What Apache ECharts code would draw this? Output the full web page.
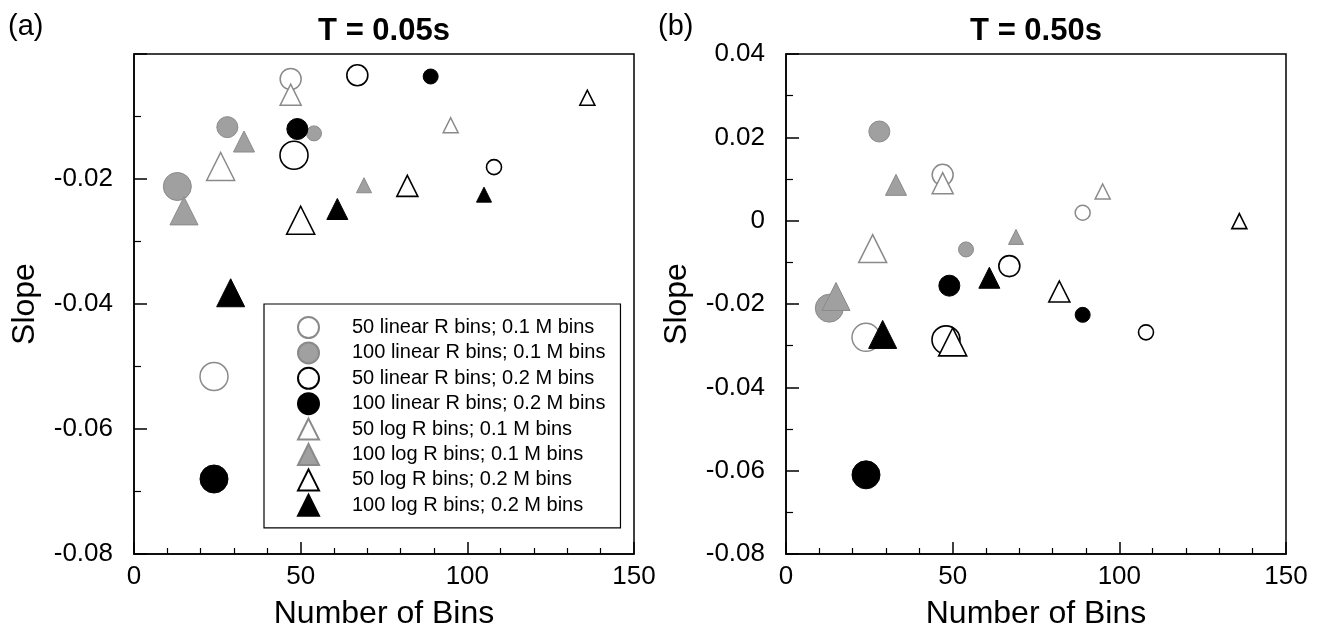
<!DOCTYPE html>
<html>
<head>
<meta charset="utf-8">
<script src="https://cdn.jsdelivr.net/npm/echarts@6/dist/echarts.min.js"></script>
<style>
  html, body { margin: 0; padding: 0; background: #fff; }
  #chart { width: 1320px; height: 635px; }
</style>
</head>
<body>
<div id="chart"></div>
<script>
// ---------------- DATA ----------------
// Legend / series names
const seriesNames = [
  '50 linear R bins; 0.1 M bins',
  '100 linear R bins; 0.1 M bins',
  '50 linear R bins; 0.2 M bins',
  '100 linear R bins; 0.2 M bins',
  '50 log R bins; 0.1 M bins',
  '100 log R bins; 0.1 M bins',
  '50 log R bins; 0.2 M bins',
  '100 log R bins; 0.2 M bins'
];
const panelTitles = ['T = 0.05s', 'T = 0.50s'];
const panelLabels = ['(a)', '(b)'];
const xTicks = [0, 50, 100, 150];
const yTicksLeft = [-0.08, -0.06, -0.04, -0.02, 0];
const yTicksRight = [-0.08, -0.06, -0.04, -0.02, 0, 0.02, 0.04];

// Each series: [number of bins, slope] for three fit groups (large, medium, small marker); null = not visible
// Panel (a): T = 0.05 s
const a_lin50_m01  = [[24, -0.0516], [47, -0.0040], null];
const a_lin100_m01 = [[13, -0.0212], [28, -0.0117], [54, -0.0127]];
const a_lin50_m02  = [[48, -0.0162], [67, -0.0034], [108, -0.0181]];
const a_lin100_m02 = [[24, -0.0680], [49, -0.0120], [89, -0.0036]];
const a_log50_m01  = [[26, -0.0180], [47, -0.0065], [95, -0.0114]];
const a_log100_m01 = [[15, -0.0251], [33, -0.0140], [69, -0.0210]];
const a_log50_m02  = [[50, -0.0266], [82, -0.0211], [136, -0.0070]];
const a_log100_m02 = [[29, -0.0382], [61, -0.0248], [105, -0.0225]];
// Panel (b): T = 0.50 s
const b_lin50_m01  = [[24, -0.0280], [47, 0.0110], [89, 0.0019]];
const b_lin100_m01 = [[13, -0.0210], [28, 0.0214], [54, -0.0069]];
const b_lin50_m02  = [[48, -0.0286], [67, -0.0109], [108, -0.0268]];
const b_lin100_m02 = [[24, -0.0610], [49, -0.0156], [89, -0.0226]];
const b_log50_m01  = [[26, -0.0067], [47, 0.0090], [95, 0.0070]];
const b_log100_m01 = [[15, -0.0182], [33, 0.0086], [69, -0.0039]];
const b_log50_m02  = [[50, -0.0291], [82, -0.0170], [136, -0.0001]];
const b_log100_m02 = [[29, -0.0273], [61, -0.0137], null];

// ---------------- STYLE ----------------
const FONT = "'Liberation Sans', Arial, Helvetica, sans-serif";
const GRAY_FILL = '#a0a0a0';
const GRAY_LINE = '#8a8a8a';
const SIZES = [28, 21, 15];
const seriesStyles = [
  { symbol: 'circle',   color: '#ffffff', borderColor: GRAY_LINE, borderWidth: 1.5 },
  { symbol: 'circle',   color: GRAY_FILL, borderColor: GRAY_LINE, borderWidth: 1 },
  { symbol: 'circle',   color: '#ffffff', borderColor: '#000000', borderWidth: 1.6 },
  { symbol: 'circle',   color: '#000000', borderColor: '#000000', borderWidth: 1 },
  { symbol: 'triangle', color: '#ffffff', borderColor: GRAY_LINE, borderWidth: 1.5 },
  { symbol: 'triangle', color: GRAY_FILL, borderColor: GRAY_LINE, borderWidth: 1 },
  { symbol: 'triangle', color: '#ffffff', borderColor: '#000000', borderWidth: 1.6 },
  { symbol: 'triangle', color: '#000000', borderColor: '#000000', borderWidth: 1 }
];
const panelData = [
  [a_lin50_m01, a_lin100_m01, a_lin50_m02, a_lin100_m02, a_log50_m01, a_log100_m01, a_log50_m02, a_log100_m02],
  [b_lin50_m01, b_lin100_m01, b_lin50_m02, b_lin100_m02, b_log50_m01, b_log100_m01, b_log50_m02, b_log100_m02]
];

const GRID_LEFTS = [134, 786];
const GRID_TOP = 54, GRID_W = 500, GRID_H = 500;

function fmt(v, hideZero) {
  const r = Number(v.toFixed(2));
  if (Math.abs(r) < 1e-9) return hideZero ? '' : '0';
  return String(r);
}

const grids = GRID_LEFTS.map(l => ({
  left: l, top: GRID_TOP, width: GRID_W, height: GRID_H,
  show: true, borderColor: '#000', borderWidth: 1.5, backgroundColor: 'transparent'
}));

const xAxes = [0, 1].map(i => ({
  type: 'value', gridIndex: i,
  min: xTicks[0], max: xTicks[xTicks.length - 1], interval: xTicks[1] - xTicks[0],
  name: 'Number of Bins', nameLocation: 'middle', nameGap: 44,
  nameTextStyle: { fontFamily: FONT, fontSize: 32, color: '#000' },
  axisLine: { show: true, onZero: false, lineStyle: { color: '#000', width: 1.5 } },
  axisTick: { show: true, inside: true, length: 12, lineStyle: { color: '#000', width: 1.5 } },
  minorTick: { show: true, splitNumber: 5, length: 6, lineStyle: { color: '#000', width: 1.2 } },
  axisLabel: { fontFamily: FONT, fontSize: 26, color: '#000', margin: 10 },
  splitLine: { show: false }
}));

const yTickSets = [yTicksLeft, yTicksRight];
const yAxes = [0, 1].map(i => ({
  type: 'value', gridIndex: i,
  min: yTickSets[i][0], max: yTickSets[i][yTickSets[i].length - 1],
  interval: yTickSets[i][1] - yTickSets[i][0],
  name: 'Slope', nameLocation: 'middle', nameGap: 93,
  nameTextStyle: { fontFamily: FONT, fontSize: 32, color: '#000' },
  axisLine: { show: true, onZero: false, lineStyle: { color: '#000', width: 1.5 } },
  axisTick: { show: true, inside: true, length: 13, lineStyle: { color: '#000', width: 1.5 } },
  minorTick: { show: true, splitNumber: 2, length: 7, lineStyle: { color: '#000', width: 1.2 } },
  axisLabel: { fontFamily: FONT, fontSize: 26, color: '#000', margin: 21,
               formatter: v => fmt(v, i === 0) },
  splitLine: { show: false }
}));

const series = [];
panelData.forEach((sets, p) => {
  sets.forEach((pts, s) => {
    const st = seriesStyles[s];
    const data = [];
    pts.forEach((pt, k) => {
      if (pt) data.push({ value: pt, symbolSize: SIZES[k] });
    });
    series.push({
      type: 'scatter', name: seriesNames[s],
      xAxisIndex: p, yAxisIndex: p,
      symbol: st.symbol,
      itemStyle: { color: st.color, borderColor: st.borderColor, borderWidth: st.borderWidth, opacity: 1 },
      emphasis: { disabled: true },
      animation: false,
      data: data
    });
  });
});

const graphics = [];
panelTitles.forEach((t, i) => {
  graphics.push({
    type: 'text', x: GRID_LEFTS[i] + GRID_W / 2, y: 31,
    style: { text: t, align: 'center', verticalAlign: 'middle',
             font: "bold 31px " + FONT, fill: '#000' }
  });
});
panelLabels.forEach((t, i) => {
  graphics.push({
    type: 'text', x: [8, 658][i], y: 27,
    style: { text: t, align: 'left', verticalAlign: 'middle',
             font: "29px " + FONT, fill: '#000' }
  });
});

const chart = echarts.init(document.getElementById('chart'), null, { renderer: 'canvas' });
chart.setOption({
  backgroundColor: '#ffffff',
  animation: false,
  grid: grids,
  xAxis: xAxes,
  yAxis: yAxes,
  legend: {
    data: seriesNames,
    orient: 'vertical',
    left: 264, top: 304,
    padding: [12, 15, 11, 33],
    itemWidth: 21, itemHeight: 21, itemGap: 2.4,
    selectedMode: false,
    borderColor: '#000', borderWidth: 1.2, backgroundColor: '#fff',
    textStyle: { fontFamily: FONT, fontSize: 20, color: '#000', padding: [0, 0, 0, 28] }
  },
  graphic: graphics,
  series: series
});
</script>
</body>
</html>
